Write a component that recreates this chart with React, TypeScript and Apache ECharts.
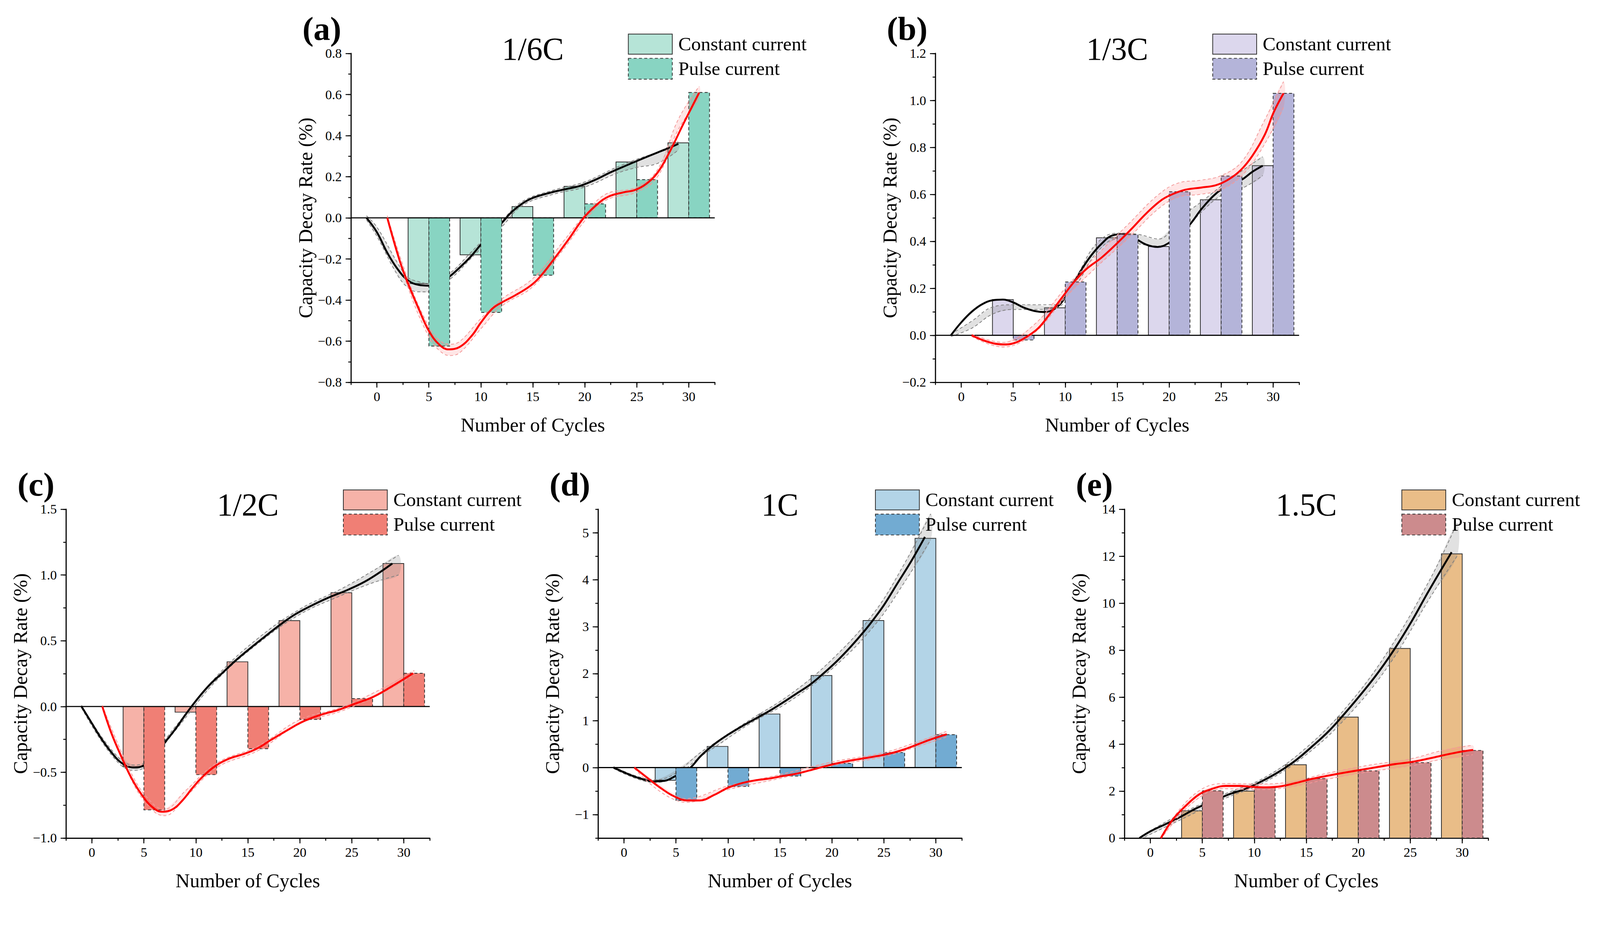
import React, { useEffect, useRef } from "react";
import * as echarts from "echarts";

// ---------------- data ----------------
const CYCLES = [5, 10, 15, 20, 25, 30];

const A_CC = [-0.32, -0.18, 0.055, 0.153, 0.272, 0.365];
const A_PC = [-0.624, -0.46, -0.279, 0.068, 0.186, 0.61];
const B_CC = [0.152, 0.117, 0.415, 0.378, 0.577, 0.722];
const B_PC = [-0.02, 0.227, 0.429, 0.611, 0.678, 1.03];
const C_CC = [-0.458, -0.043, 0.34, 0.653, 0.865, 1.087];
const C_PC = [-0.786, -0.518, -0.321, -0.098, 0.06, 0.253];
const D_CC = [-0.27, 0.45, 1.14, 1.96, 3.13, 4.88];
const D_PC = [-0.7, -0.4, -0.18, 0.09, 0.32, 0.7];
const E_CC = [1.16, 2.0, 3.12, 5.15, 8.07, 12.1];
const E_PC = [2.01, 2.16, 2.53, 2.86, 3.21, 3.73];

// fitted curves [cycle, value]
const A_CC_FIT = [[-1, 0], [0, -0.07], [1, -0.17], [2, -0.25], [3, -0.305], [4, -0.326], [5, -0.33], [6, -0.315], [7, -0.285], [8, -0.24], [9, -0.19], [10, -0.13], [11, -0.075], [12, -0.025], [13, 0.03], [14, 0.07], [15, 0.097], [16.5, 0.12], [18, 0.138], [19.5, 0.155], [21, 0.185], [22.5, 0.222], [24, 0.255], [25.5, 0.287], [27, 0.318], [28, 0.338], [29, 0.36]];
const A_PC_FIT = [[1, 0], [2.2, -0.21], [3, -0.32], [4, -0.44], [5, -0.55], [6, -0.617], [6.9, -0.64], [8, -0.627], [9.15, -0.572], [10, -0.51], [11.1, -0.442], [12, -0.412], [13.3, -0.377], [14.7, -0.333], [15.6, -0.292], [17, -0.203], [18.4, -0.108], [19.9, 0], [21.2, 0.066], [22.3, 0.104], [23.7, 0.124], [24.8, 0.135], [25.9, 0.165], [27, 0.22], [28.1, 0.315], [29.5, 0.459], [31, 0.609]];
const B_CC_FIT = [[-1, 0], [0, 0.055], [1, 0.1], [2, 0.132], [3, 0.149], [4, 0.152], [5, 0.14], [6, 0.118], [7, 0.104], [8, 0.099], [9, 0.113], [10, 0.161], [11.1, 0.245], [12.3, 0.328], [13.5, 0.39], [14.6, 0.426], [15.5, 0.43], [16.7, 0.412], [17.8, 0.386], [18.9, 0.376], [20, 0.394], [21, 0.43], [22, 0.472], [23.1, 0.537], [24.2, 0.591], [25.1, 0.624], [26, 0.645], [27, 0.663], [28, 0.696], [29, 0.722]];
const B_PC_FIT = [[1, 0], [2.1, -0.021], [3.3, -0.036], [4.3, -0.039], [5.3, -0.03], [6.3, -0.006], [7.4, 0.03], [8.5, 0.09], [9.7, 0.161], [10.85, 0.227], [12, 0.281], [13.5, 0.331], [14.9, 0.388], [16.4, 0.454], [17.8, 0.519], [19.3, 0.577], [20.45, 0.603], [21.6, 0.62], [23.1, 0.629], [24.5, 0.639], [25.7, 0.663], [26.9, 0.704], [28, 0.764], [29.2, 0.854], [30.05, 0.949], [31, 1.03]];
const C_CC_FIT = [[-1, 0], [-0.1, -0.116], [0.9, -0.244], [1.9, -0.351], [2.8, -0.426], [4, -0.464], [5, -0.447], [6, -0.37], [7.1, -0.265], [8.05, -0.169], [9, -0.062], [10, 0.043], [11.3, 0.163], [12.6, 0.259], [13.9, 0.355], [15.2, 0.441], [16.9, 0.548], [18.2, 0.627], [19.5, 0.698], [21.1, 0.766], [22.7, 0.826], [24.7, 0.89], [26.6, 0.965], [28.9, 1.087]];
const C_PC_FIT = [[1, 0], [1.86, -0.2], [2.84, -0.383], [3.8, -0.544], [4.8, -0.672], [5.77, -0.762], [6.75, -0.8], [7.73, -0.783], [8.7, -0.715], [9.68, -0.619], [10.66, -0.533], [11.97, -0.447], [13.27, -0.394], [14.57, -0.362], [15.9, -0.319], [17.2, -0.255], [18.8, -0.18], [20.4, -0.111], [22.07, -0.062], [23.7, -0.026], [25.3, 0.021], [27, 0.071], [28.6, 0.141], [30.9, 0.253]];
const D_CC_FIT = [[-1, 0], [0.3, -0.13], [1.6, -0.234], [2.9, -0.294], [3.9, -0.282], [5, -0.174], [5.7, -0.09], [6.4, 0], [7.4, 0.25], [8.7, 0.5], [10, 0.7], [11.35, 0.88], [12.65, 1.04], [13.95, 1.2], [15.26, 1.38], [16.56, 1.57], [17.87, 1.76], [19.17, 2.0], [20.5, 2.27], [21.8, 2.57], [23.1, 2.9], [24.06, 3.17], [25.04, 3.47], [26.3, 3.92], [27.65, 4.4], [28.95, 4.91]];
const D_PC_FIT = [[1, 0], [2.2, -0.21], [3.5, -0.43], [4.8, -0.61], [6.1, -0.7], [7.3, -0.7], [8.7, -0.58], [10, -0.43], [11.35, -0.33], [12.65, -0.27], [13.95, -0.234], [15.26, -0.18], [16.56, -0.132], [17.87, -0.06], [19.17, 0.018], [20.5, 0.09], [21.8, 0.15], [23.1, 0.198], [24.4, 0.246], [25.7, 0.306], [27, 0.39], [28.3, 0.498], [29.6, 0.606], [31.05, 0.708]];
const E_CC_FIT = [[-1.05, 0], [0.06, 0.3], [1.5, 0.6], [2.78, 0.875], [4.38, 1.26], [5.97, 1.56], [7.57, 1.86], [9.17, 2.1], [10.77, 2.43], [12.36, 2.82], [13.96, 3.3], [15.56, 3.9], [17.16, 4.55], [18.75, 5.33], [20.35, 6.17], [21.95, 7.07], [23.55, 8.09], [25.14, 9.23], [26.74, 10.49], [28.98, 12.17]];
const E_PC_FIT = [[1.02, 0], [2.14, 0.78], [3.42, 1.38], [4.7, 1.86], [5.97, 2.1], [7.25, 2.22], [8.53, 2.22], [9.8, 2.18], [11.1, 2.16], [12.36, 2.19], [13.96, 2.34], [15.56, 2.52], [17.16, 2.66], [18.75, 2.79], [20.35, 2.91], [21.95, 3.03], [23.55, 3.15], [25.14, 3.24], [26.74, 3.38], [28.34, 3.54], [29.94, 3.68], [31.05, 3.75]];

// confidence bands [cycle, lower, upper]
const A_CC_BAND = [[-1, -0.01, 0.01], [0, -0.09, -0.045], [2, -0.28, -0.22], [3, -0.34, -0.29], [4, -0.36, -0.31], [5, -0.36, -0.32], [7, -0.3, -0.27], [9, -0.2, -0.17], [12, -0.045, -0.015], [14, 0.06, 0.08], [17, 0.115, 0.135], [20, 0.15, 0.175], [23, 0.215, 0.245], [25, 0.245, 0.285], [27, 0.265, 0.32], [29, 0.33, 0.37]];
const A_PC_BAND = [[1, -0.01, 0.01], [3, -0.34, -0.3], [5, -0.58, -0.53], [6, -0.645, -0.595], [7, -0.67, -0.615], [8, -0.655, -0.6], [10, -0.54, -0.49], [12, -0.43, -0.395], [15, -0.335, -0.295], [18, -0.15, -0.11], [20, -0.015, 0.015], [22, 0.085, 0.115], [25, 0.125, 0.15], [27, 0.2, 0.235], [29, 0.43, 0.48], [31, 0.58, 0.64]];
const B_CC_BAND = [[-1, -0.005, 0.005], [1, 0.03, 0.06], [3, 0.09, 0.12], [5, 0.11, 0.13], [7, 0.11, 0.13], [9, 0.115, 0.13], [11, 0.21, 0.245], [13, 0.35, 0.39], [15, 0.41, 0.435], [17, 0.39, 0.43], [19, 0.38, 0.41], [21, 0.43, 0.5], [23, 0.52, 0.565], [25, 0.595, 0.635], [27, 0.625, 0.7], [29, 0.68, 0.76]];
const B_PC_BAND = [[1, -0.005, 0.005], [4, -0.05, -0.03], [7, 0.01, 0.045], [10, 0.16, 0.2], [13, 0.29, 0.34], [16, 0.41, 0.47], [19, 0.54, 0.6], [21, 0.59, 0.65], [23, 0.6, 0.66], [25, 0.62, 0.68], [27, 0.68, 0.74], [29, 0.8, 0.9], [31, 0.97, 1.08]];
const C_CC_BAND = [[-1, -0.01, 0.01], [2, -0.38, -0.34], [4, -0.485, -0.445], [5, -0.465, -0.43], [8, -0.185, -0.155], [12, 0.2, 0.23], [16, 0.48, 0.52], [20, 0.7, 0.74], [24, 0.845, 0.895], [27, 0.94, 1.03], [29.5, 1.0, 1.15]];
const C_PC_BAND = [[1, -0.01, 0.01], [4, -0.59, -0.54], [6, -0.8, -0.75], [7, -0.83, -0.78], [9, -0.69, -0.64], [12, -0.465, -0.43], [16, -0.335, -0.3], [20, -0.13, -0.1], [24, -0.035, -0.005], [28, 0.105, 0.14], [31, 0.24, 0.275]];
const D_CC_BAND = [[-1, -0.02, 0.02], [3, -0.32, -0.26], [8, 0.33, 0.42], [12, 0.92, 1.0], [16, 1.42, 1.56], [20, 2.1, 2.3], [24, 3.0, 3.28], [27, 3.95, 4.35], [29.5, 4.85, 5.4]];
const D_PC_BAND = [[1, -0.02, 0.02], [6, -0.74, -0.66], [10, -0.47, -0.39], [15, -0.23, -0.15], [20, 0.04, 0.12], [25, 0.23, 0.32], [28, 0.43, 0.53], [31, 0.65, 0.77]];
const E_CC_BAND = [[-1, -0.05, 0.05], [3, 0.8, 1.05], [7, 1.65, 1.85], [11, 2.38, 2.58], [15, 3.55, 3.85], [19, 5.2, 5.65], [23, 7.4, 8.05], [27, 10.3, 11.1], [29.5, 12.0, 13.4]];
const E_PC_BAND = [[1, -0.05, 0.05], [4, 1.48, 1.78], [7, 2.1, 2.32], [10, 2.06, 2.3], [13, 2.14, 2.36], [17, 2.5, 2.76], [21, 2.82, 3.1], [25, 3.07, 3.37], [28, 3.35, 3.72], [31, 3.55, 3.95]];

const LEGEND_CC = "Constant current";
const LEGEND_PC = "Pulse current";
const X_TITLE = "Number of Cycles";
const Y_TITLE = "Capacity Decay Rate (%)";

// ---------------- layout / style ----------------
const W = 4222;
const H = 2384;
const PW = 960;
const PH = 868;
const X_MIN = -2.5;
const X_MAX = 32.5;
const X_MINOR = 2.5;
const X_MAJOR = 5;
const X_MAJ_MIN = 0;
const X_MAJ_MAX = 30;
const BAR_W = 2;
const FONT = '"Liberation Serif", "Times New Roman", serif';

const PANELS = [
  { label: "(a)", title: "1/6C", left: 926, top: 141, yMin: -0.8, yMax: 0.8, yMinor: 0.1, yMajor: 0.2, yMajMin: -0.8, yMajMax: 0.8, dec: 1, cc: A_CC, pc: A_PC, ccFit: A_CC_FIT, pcFit: A_PC_FIT, ccBand: A_CC_BAND, pcBand: A_PC_BAND, ccColor: "#b6e4d7", pcColor: "#88d4c2", zeroLine: true },
  { label: "(b)", title: "1/3C", left: 2468, top: 141, yMin: -0.2, yMax: 1.2, yMinor: 0.1, yMajor: 0.2, yMajMin: -0.2, yMajMax: 1.2, dec: 1, cc: B_CC, pc: B_PC, ccFit: B_CC_FIT, pcFit: B_PC_FIT, ccBand: B_CC_BAND, pcBand: B_PC_BAND, ccColor: "#dcd7ed", pcColor: "#b4b4d9", zeroLine: true },
  { label: "(c)", title: "1/2C", left: 174, top: 1344, yMin: -1.0, yMax: 1.5, yMinor: 0.25, yMajor: 0.5, yMajMin: -1.0, yMajMax: 1.5, dec: 1, cc: C_CC, pc: C_PC, ccFit: C_CC_FIT, pcFit: C_PC_FIT, ccBand: C_CC_BAND, pcBand: C_PC_BAND, ccColor: "#f6b2a8", pcColor: "#f07f75", zeroLine: true },
  { label: "(d)", title: "1C", left: 1578, top: 1344, yMin: -1.5, yMax: 5.5, yMinor: 0.5, yMajor: 1, yMajMin: -1, yMajMax: 5, dec: 0, cc: D_CC, pc: D_PC, ccFit: D_CC_FIT, pcFit: D_PC_FIT, ccBand: D_CC_BAND, pcBand: D_PC_BAND, ccColor: "#b3d4e7", pcColor: "#72abd2", zeroLine: true },
  { label: "(e)", title: "1.5C", left: 2967, top: 1344, yMin: 0, yMax: 14, yMinor: 1, yMajor: 2, yMajMin: 0, yMajMax: 14, dec: 0, cc: E_CC, pc: E_PC, ccFit: E_CC_FIT, pcFit: E_PC_FIT, ccBand: E_CC_BAND, pcBand: E_PC_BAND, ccColor: "#e9bd88", pcColor: "#cc8b8d", zeroLine: false },
];

const isMult = (v: number, m: number) => Math.abs(v / m - Math.round(v / m)) < 1e-6;
const fmt = (v: number, dec: number) => {
  const s = Math.abs(v).toFixed(dec);
  return (v < -1e-9 ? "\u2212" : "") + s;
};

const AXIS_LINE = { color: "#000", width: 3 };
const TICK_LINE = { color: "#000", width: 2.5 };

function barSeries(gi: number, values: number[], color: string, dashed: boolean, side: number, z: number) {
  return {
    type: "custom",
    xAxisIndex: gi,
    yAxisIndex: gi,
    z,
    silent: true,
    data: CYCLES.map((c, k) => [c, values[k]]),
    renderItem: (params: any, api: any) => {
      const x = api.value(0);
      const y = api.value(1);
      const a = api.coord([side < 0 ? x - BAR_W : x, 0]);
      const b = api.coord([side < 0 ? x : x + BAR_W, y]);
      return {
        type: "rect",
        shape: {
          x: Math.min(a[0], b[0]),
          y: Math.min(a[1], b[1]),
          width: Math.abs(b[0] - a[0]),
          height: Math.abs(b[1] - a[1]),
        },
        style: {
          fill: color,
          stroke: "#2e2e2e",
          lineWidth: 2,
          lineDash: dashed ? [8, 6] : null,
        },
      };
    },
  };
}

function bandFill(gi: number, band: number[][], color: string, z: number) {
  return {
    type: "custom",
    xAxisIndex: gi,
    yAxisIndex: gi,
    z,
    silent: true,
    data: [[band[0][0], band[0][1]]],
    renderItem: (params: any, api: any) => {
      const lower = band.map((r) => api.coord([r[0], r[1]]));
      const upper = band
        .slice()
        .reverse()
        .map((r) => api.coord([r[0], r[2]]));
      return {
        type: "polygon",
        shape: { points: lower.concat(upper), smooth: 0.3 },
        style: { fill: color },
      };
    },
  };
}

function lineSeries(gi: number, pts: number[][], color: string, width: number, dashed: boolean, z: number) {
  return {
    type: "line",
    xAxisIndex: gi,
    yAxisIndex: gi,
    z,
    silent: true,
    data: pts,
    smooth: 0.4,
    symbol: "none",
    showSymbol: false,
    lineStyle: { color, width, type: dashed ? [8, 6] : "solid" },
    emphasis: { disabled: true },
  };
}

function buildOption() {
  const grid: any[] = [];
  const xAxis: any[] = [];
  const yAxis: any[] = [];
  const series: any[] = [];
  const graphic: any[] = [];

  PANELS.forEach((p) => {
    const gi = grid.length;
    const ppx = PW / (X_MAX - X_MIN);
    const ppy = PH / (p.yMax - p.yMin);
    grid.push({ left: p.left, top: p.top, width: PW, height: PH });
    grid.push({ left: p.left + (X_MAJ_MIN - X_MIN) * ppx, top: p.top, width: (X_MAJ_MAX - X_MAJ_MIN) * ppx, height: PH });
    grid.push({ left: p.left, top: p.top + (p.yMax - p.yMajMax) * ppy, width: PW, height: (p.yMajMax - p.yMajMin) * ppy });

    xAxis.push({
      gridIndex: gi,
      type: "value",
      min: X_MIN,
      max: X_MAX,
      interval: X_MINOR,
      axisLine: { show: true, onZero: false, lineStyle: AXIS_LINE },
      axisTick: { show: true, inside: false, length: 7, lineStyle: TICK_LINE },
      axisLabel: {
        show: true,
        margin: 20,
        fontSize: 35,
        fontFamily: FONT,
        color: "#000",
        formatter: (v: number) => (isMult(v, X_MAJOR) && v >= X_MAJ_MIN - 1e-6 && v <= X_MAJ_MAX + 1e-6 ? fmt(v, 0) : ""),
      },
      splitLine: { show: false },
    });
    yAxis.push({
      gridIndex: gi,
      type: "value",
      min: p.yMin,
      max: p.yMax,
      interval: p.yMinor,
      axisLine: { show: true, onZero: false, lineStyle: AXIS_LINE },
      axisTick: { show: true, inside: false, length: 7, lineStyle: TICK_LINE },
      axisLabel: {
        show: true,
        margin: 24,
        fontSize: 35,
        fontFamily: FONT,
        color: "#000",
        formatter: (v: number) => (isMult(v - p.yMajMin, p.yMajor) && v >= p.yMajMin - 1e-6 && v <= p.yMajMax + 1e-6 ? fmt(v, p.dec) : ""),
      },
      splitLine: { show: false },
    });
    xAxis.push({
      gridIndex: gi + 1,
      type: "value",
      min: X_MAJ_MIN,
      max: X_MAJ_MAX,
      interval: X_MAJOR,
      axisLine: { show: false, onZero: false },
      axisTick: { show: true, inside: false, length: 14, lineStyle: TICK_LINE },
      axisLabel: { show: false },
      splitLine: { show: false },
    });
    yAxis.push({ gridIndex: gi + 1, type: "value", show: false, min: 0, max: 1 });
    xAxis.push({ gridIndex: gi + 2, type: "value", show: false, min: 0, max: 1 });
    yAxis.push({
      gridIndex: gi + 2,
      type: "value",
      min: p.yMajMin,
      max: p.yMajMax,
      interval: p.yMajor,
      axisLine: { show: false, onZero: false },
      axisTick: { show: true, inside: false, length: 14, lineStyle: TICK_LINE },
      axisLabel: { show: false },
      splitLine: { show: false },
    });

    series.push(barSeries(gi, p.cc, p.ccColor, false, -1, 2));
    series.push(bandFill(gi, p.ccBand, "rgba(120,120,120,0.22)", 3));
    series.push(lineSeries(gi, p.ccBand.map((r) => [r[0], r[1]]), "#808080", 2, true, 3));
    series.push(lineSeries(gi, p.ccBand.map((r) => [r[0], r[2]]), "#808080", 2, true, 3));
    series.push(lineSeries(gi, p.ccFit, "#000000", 5, false, 4));
    series.push(barSeries(gi, p.pc, p.pcColor, true, 1, 5));
    if (p.zeroLine) {
      series.push(lineSeries(gi, [[X_MIN, 0], [X_MAX, 0]], "#000000", 3, false, 6));
    }
    series.push(bandFill(gi, p.pcBand, "rgba(255,90,90,0.15)", 7));
    series.push(lineSeries(gi, p.pcBand.map((r) => [r[0], r[1]]), "#f39a9a", 2, true, 7));
    series.push(lineSeries(gi, p.pcBand.map((r) => [r[0], r[2]]), "#f39a9a", 2, true, 7));
    series.push(lineSeries(gi, p.pcFit, "#ff0000", 5, false, 8));

    const L = p.left;
    const T = p.top;
    const txt = (x: number, y: number, text: string, font: string, align: string, extra: any = {}) => ({
      type: "text",
      x,
      y,
      z: 100,
      silent: true,
      ...extra,
      style: { text, font, fill: "#000", textAlign: align, textVerticalAlign: "middle", align, verticalAlign: "middle" },
    });
    graphic.push(txt(L - 128, T - 66, p.label, `bold 88px ${FONT}`, "left"));
    graphic.push(txt(L + PW / 2, T - 12, p.title, `84px ${FONT}`, "center"));
    graphic.push({ type: "rect", z: 100, silent: true, shape: { x: L + 732, y: T - 51, width: 116, height: 53 }, style: { fill: p.ccColor, stroke: "#2e2e2e", lineWidth: 2 } });
    graphic.push({ type: "rect", z: 100, silent: true, shape: { x: L + 732, y: T + 13, width: 116, height: 55 }, style: { fill: p.pcColor, stroke: "#2e2e2e", lineWidth: 2, lineDash: [8, 6] } });
    graphic.push(txt(L + 864, T - 25, LEGEND_CC, `51px ${FONT}`, "left"));
    graphic.push(txt(L + 864, T + 40, LEGEND_PC, `51px ${FONT}`, "left"));
    graphic.push(txt(L - 120, T + PH / 2, Y_TITLE, `52px ${FONT}`, "center", { rotation: Math.PI / 2 }));
    graphic.push(txt(L + PW / 2, T + PH + 112, X_TITLE, `52px ${FONT}`, "center"));
  });

  return {
    animation: false,
    backgroundColor: "#ffffff",
    grid,
    xAxis,
    yAxis,
    series,
    graphic,
  };
}

export default function App() {
  const ref = useRef<HTMLDivElement>(null);
  const vw = typeof window !== "undefined" ? window.innerWidth : W;
  const vh = typeof window !== "undefined" ? window.innerHeight : H;
  const scale = Math.min(1, vw / W, vh / H);
  useEffect(() => {
    document.body.style.margin = "0";
    document.body.style.overflow = "hidden";
    const chart = echarts.init(ref.current as HTMLDivElement, null, { renderer: "svg", width: W, height: H });
    chart.setOption(buildOption());
    return () => chart.dispose();
  }, []);
  return (
    <div
      ref={ref}
      style={{
        position: "absolute",
        left: 0,
        top: 0,
        width: W,
        height: H,
        background: "#fff",
        transform: `scale(${scale})`,
        transformOrigin: "0 0",
      }}
    />
  );
}
